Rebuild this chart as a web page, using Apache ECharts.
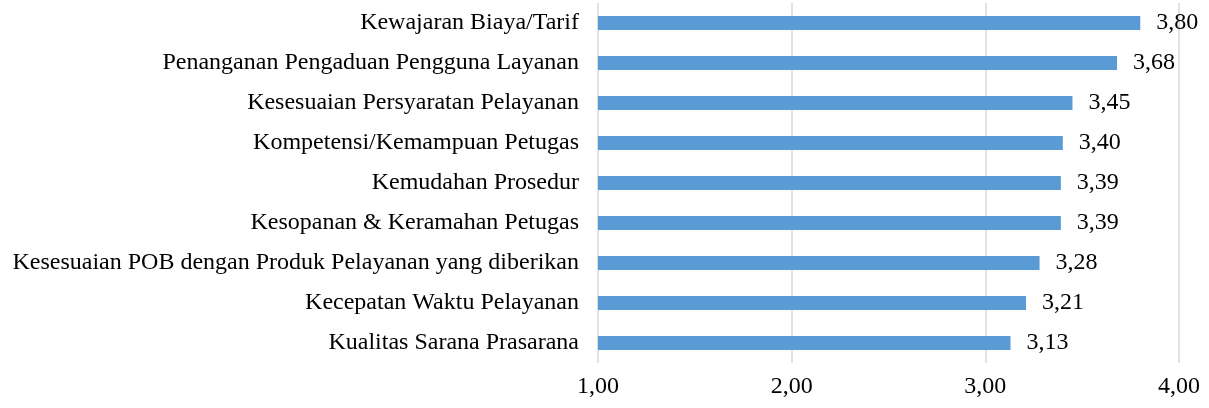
<!DOCTYPE html>
<html>
<head>
<meta charset="utf-8">
<script src="https://cdn.jsdelivr.net/npm/echarts@6/dist/echarts.min.js"></script>
<style>
  html, body { margin: 0; padding: 0; background: #fff; }
  #chart { width: 1209px; height: 408px; }
</style>
</head>
<body>
<div id="chart"></div>
<script>
// categories listed top to bottom
var categories = [
  "Kewajaran Biaya/Tarif",
  "Penanganan Pengaduan Pengguna Layanan",
  "Kesesuaian Persyaratan Pelayanan",
  "Kompetensi/Kemampuan Petugas",
  "Kemudahan Prosedur",
  "Kesopanan & Keramahan Petugas",
  "Kesesuaian POB dengan Produk Pelayanan yang diberikan",
  "Kecepatan Waktu Pelayanan",
  "Kualitas Sarana Prasarana"
];
var scores = [3.80, 3.68, 3.45, 3.40, 3.39, 3.39, 3.28, 3.21, 3.13];
var axisMin = 1;
var axisMax = 4;

function fmt(v) {
  return Number(v).toFixed(2).replace(".", ",");
}

var chart = echarts.init(document.getElementById("chart"));
var font = "'Liberation Serif', 'Times New Roman', serif";

chart.setOption({
  animation: false,
  grid: {
    left: 598,
    right: 30,
    top: 3,
    bottom: 45
  },
  xAxis: {
    type: "value",
    min: axisMin,
    max: axisMax,
    interval: 1,
    axisLine: { show: false },
    axisTick: { show: false },
    axisLabel: {
      margin: 12,
      fontFamily: font,
      fontSize: 24,
      color: "#000",
      formatter: fmt
    },
    splitLine: { lineStyle: { color: "#d9d9d9", width: 1.5 } }
  },
  yAxis: {
    type: "category",
    data: categories,
    inverse: true,
    axisLine: { show: false },
    axisTick: { show: false },
    axisLabel: {
      margin: 19,
      fontFamily: font,
      fontSize: 24,
      color: "#000"
    }
  },
  series: [
    {
      type: "bar",
      data: scores,
      barWidth: 14,
      itemStyle: { color: "#5b9bd5" },
      label: {
        show: true,
        position: "right",
        distance: 16,
        fontFamily: font,
        fontSize: 24,
        color: "#000",
        formatter: function (p) { return fmt(p.value); }
      }
    }
  ]
});
</script>
</body>
</html>
